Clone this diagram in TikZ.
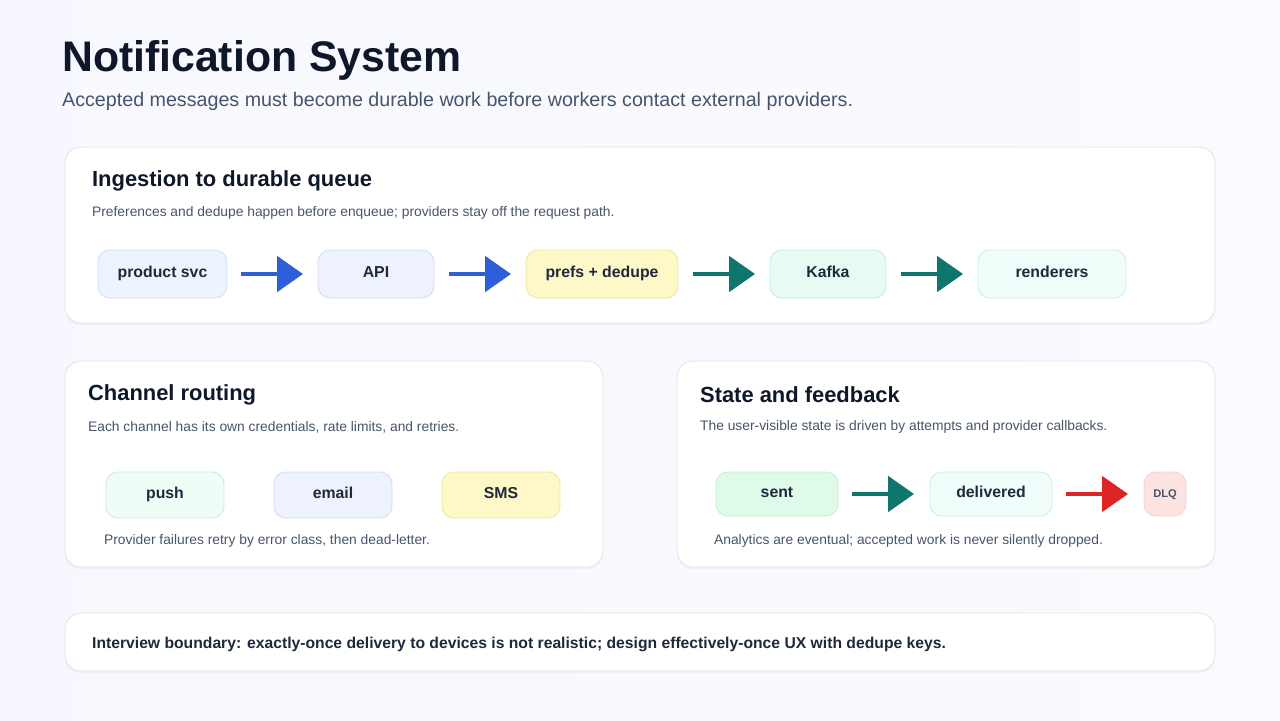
\documentclass[tikz,border=0pt]{standalone}
\usepackage{fontspec}
\setmainfont{Liberation Sans}
\usetikzlibrary{arrows.meta,shadows}
\definecolor{ink}{HTML}{0F172A}
\definecolor{body}{HTML}{1E293B}
\definecolor{muted}{HTML}{475569}
\definecolor{arrblue}{HTML}{2F5FD8}
\definecolor{arrteal}{HTML}{0F766E}
\definecolor{arrred}{HTML}{DC2626}
\tikzset{
  panel/.style={draw=black!10,fill=white,rounded corners=16*0.03cm,line width=0.8pt,
    drop shadow={shadow xshift=0pt,shadow yshift=-2pt,opacity=0.03,fill=black}},
  stage/.style={rounded corners=12*0.03cm,line width=0.8pt,font=\fontsize{13.5}{15}\selectfont\bfseries,text=body,
    every node/.style={text height=1.4ex,text depth=0.3ex}},
  flow/.style={line width=3.2pt,-{Triangle[length=22pt,width=30pt]},#1},
  head/.style={anchor=west,font=\fontsize{18.7}{22}\selectfont\bfseries,text=ink},
  note/.style={anchor=west,font=\fontsize{11.8}{13}\selectfont,text=muted},
}
\begin{document}
\begin{tikzpicture}[x=0.03cm,y=-0.03cm]
\shade[left color=blue!3,right color=green!3!blue!2] (0,0) rectangle (1280,720);
\useasboundingbox (0,0) rectangle (1280,720);
\node[anchor=west,font=\fontsize{36.5}{40}\selectfont\bfseries,text=ink] (title) at (58,60) {Notification System};
\node[anchor=west,font=\fontsize{16.8}{20}\selectfont,text=muted] (sub) at (58,101) {Accepted messages must become durable work before workers contact external providers.};

% panels
\draw[panel] (65,147) rectangle (1215,323);
\draw[panel] (65,361) rectangle (603,567);
\draw[panel] (677,361) rectangle (1215,567);
\draw[panel] (65,613) rectangle (1215,671);

% ingestion
\node[head] (h1) at (88,181) {Ingestion to durable queue};
\node[note] (n1) at (88,213) {Preferences and dedupe happen before enqueue; providers stay off the request path.};
\filldraw[stage,fill={rgb,255:red,238;green,244;blue,255},draw={rgb,255:red,214;green,226;blue,245}] (98,250) rectangle node (svc) {product svc} (227,298);
\filldraw[stage,fill={rgb,255:red,238;green,242;blue,253},draw={rgb,255:red,214;green,222;blue,245}] (318,250) rectangle node (api) {API} (434,298);
\filldraw[stage,fill={rgb,255:red,254;green,247;blue,200},draw={rgb,255:red,245;green,230;blue,160}] (526,250) rectangle node (prefs) {prefs + dedupe} (678,298);
\filldraw[stage,fill={rgb,255:red,232;green,251;blue,242},draw={rgb,255:red,200;green,238;blue,220}] (770,250) rectangle node (kafka) {Kafka} (886,298);
\filldraw[stage,fill={rgb,255:red,240;green,253;blue,250},draw={rgb,255:red,204;green,240;blue,234}] (978,250) rectangle node (rend) {renderers} (1126,298);
\coordinate (a1) at (241,274); \coordinate (b1) at (303,274);
\coordinate (a2) at (449,274); \coordinate (b2) at (511,274);
\coordinate (a3) at (693,274); \coordinate (b3) at (755,274);
\coordinate (a4) at (901,274); \coordinate (b4) at (963,274);
\draw[flow=arrblue] (a1) -- (b1);
\draw[flow=arrblue] (a2) -- (b2);
\draw[flow=arrteal] (a3) -- (b3);
\draw[flow=arrteal] (a4) -- (b4);

% channel routing
\node[head] (h2) at (84,395) {Channel routing};
\node[note] (n2) at (84,427) {Each channel has its own credentials, rate limits, and retries.};
\filldraw[stage,fill={rgb,255:red,240;green,253;blue,246},draw={rgb,255:red,200;green,238;blue,220}] (106,472) rectangle node (push) {push} (224,518);
\filldraw[stage,fill={rgb,255:red,238;green,242;blue,253},draw={rgb,255:red,214;green,222;blue,245}] (274,472) rectangle node (email) {email} (392,518);
\filldraw[stage,fill={rgb,255:red,254;green,247;blue,200},draw={rgb,255:red,245;green,230;blue,160}] (442,472) rectangle node (sms) {SMS} (560,518);
\node[note] (n3) at (100,541) {Provider failures retry by error class, then dead-letter.};

% state and feedback
\node[head] (h3) at (696,395) {State and feedback};
\node[note] (n4) at (696,427) {The user-visible state is driven by attempts and provider callbacks.};
\filldraw[stage,fill={rgb,255:red,221;green,251;blue,232},draw={rgb,255:red,200;green,238;blue,215}] (716,472) rectangle node (sent) {sent} (838,516);
\filldraw[stage,fill={rgb,255:red,240;green,253;blue,250},draw={rgb,255:red,204;green,240;blue,234}] (930,472) rectangle node (deliv) {delivered} (1052,516);
\filldraw[stage,fill={rgb,255:red,253;green,226;blue,226},draw={rgb,255:red,248;green,210;blue,210},font=\fontsize{9.5}{10}\selectfont\bfseries,text=muted] (1144,472) rectangle node (dlq) {DLQ} (1186,516);
\coordinate (a5) at (852,494); \coordinate (b5) at (914,494);
\coordinate (a6) at (1066,494); \coordinate (b6) at (1128,494);
\draw[flow=arrteal] (a5) -- (b5);
\draw[flow=arrred] (a6) -- (b6);
\node[note] (n5) at (710,541) {Analytics are eventual; accepted work is never silently dropped.};

% boundary
\node[anchor=west,font=\fontsize{13.4}{15}\selectfont\bfseries,text=body] (bound) at (88,644) {Interview boundary: exactly-once delivery to devices is not realistic; design effectively-once UX with dedupe keys.};
\end{tikzpicture}
\end{document}
